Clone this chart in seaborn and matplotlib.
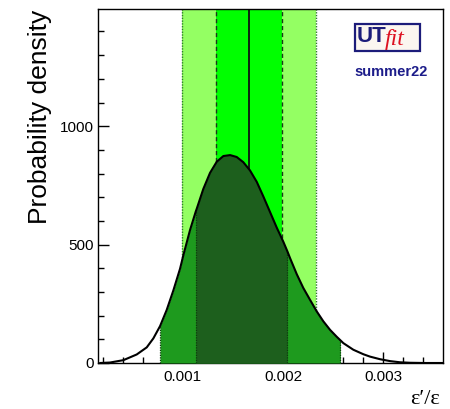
import numpy as np
import pandas as pd
import matplotlib
matplotlib.use("Agg")
import matplotlib.pyplot as plt
import seaborn as sns
from matplotlib.ticker import MultipleLocator
from matplotlib.patches import Rectangle

# posterior p.d.f. of eps'/eps
eps_ratio = [0.000175, 0.000275, 0.000408, 0.000541, 0.000641, 0.000707, 0.000774,
             0.000840, 0.000906, 0.000973, 0.001006, 0.001073, 0.001130, 0.001140,
             0.001205, 0.001272, 0.001339, 0.001405, 0.001472, 0.001538, 0.001604,
             0.001671, 0.001738, 0.001804, 0.001870, 0.001937, 0.002003, 0.002043,
             0.002070, 0.002137, 0.002202, 0.002269, 0.002336, 0.002402, 0.002469,
             0.002535, 0.002572, 0.002601, 0.002701, 0.002801, 0.002867, 0.002967,
             0.003067, 0.003167, 0.003267, 0.003416, 0.003595]
density = [0, 2, 12, 36, 66, 104, 156,
           224, 306, 398, 455, 562, 640, 652,
           735, 803, 850, 874, 878, 870, 848,
           813, 765, 703, 638, 572, 512, 472,
           443, 375, 317, 267, 218, 176, 140,
           111, 96, 84, 56, 37, 27, 16,
           8, 3, 1, 0, 0]

# 68% / 95% intervals of the posterior
post_68 = (0.001130, 0.002043)
post_95 = (0.000774, 0.002572)

# experimental average: central value, 1 and 2 sigma bands
meas_central = 0.00166
meas_1sig = (0.00133, 0.00199)
meas_2sig = (0.000996, 0.00233)

df = pd.DataFrame({"x": eps_ratio, "pdf": density})

sns.set_style("ticks")
plt.rcParams["font.family"] = ["Liberation Sans", "DejaVu Sans"]
plt.rcParams["text.color"] = "black"

fig = plt.figure(figsize=(4.5, 4.09), dpi=100)
ax = fig.add_axes([98 / 450, 1 - 363 / 409, 345 / 450, 354 / 409])

# measurement bands
ax.axvspan(*meas_2sig, color="#94ff63", lw=0, zorder=1)
ax.axvspan(*meas_1sig, color="#00ff00", lw=0, zorder=1)
for v in meas_2sig:
    ax.axvline(v, color="#2f7a2f", ls=(0, (1, 1)), lw=1, zorder=2)
for v in meas_1sig:
    ax.axvline(v, color="#1a3a1a", ls=(0, (3, 2)), lw=1, zorder=2)
ax.axvline(meas_central, color="#111111", lw=1.3, zorder=2)

# posterior fill
x = df["x"].to_numpy()
y = df["pdf"].to_numpy()
m95 = (x >= post_95[0]) & (x <= post_95[1])
m68 = (x >= post_68[0]) & (x <= post_68[1])
ax.fill_between(x, 0, y, where=m95, color="#1e9a1e", lw=0, zorder=3)
ax.fill_between(x, 0, y, where=m68, color="#1d5f1d", lw=0, zorder=4)
for v in post_95 + post_68:
    ax.plot([v, v], [0, np.interp(v, x, y)], color="#0d3d0d",
            ls=(0, (1, 1)), lw=0.9, zorder=5)

sns.lineplot(data=df, x="x", y="pdf", color="black", lw=1.5, ax=ax, zorder=6)

ax.set_xlim(0.000155, 0.003595)
ax.set_ylim(0, 1495)
ax.set_xlabel("")
ax.set_ylabel("")
ax.xaxis.set_minor_locator(MultipleLocator(0.0002))
ax.yaxis.set_major_locator(MultipleLocator(500))
ax.yaxis.set_minor_locator(MultipleLocator(100))
ax.set_xticks([0.001, 0.002, 0.003])
ax.set_xticklabels(["0.001", "0.002", "0.003"])
ax.tick_params(which="major", direction="in", length=8, width=1, labelsize=11,
               pad=3, colors="black")
ax.tick_params(which="minor", direction="in", length=4, width=1, colors="black")
ax.tick_params(axis="x", pad=5)
for s in ax.spines.values():
    s.set_visible(True)
    s.set_linewidth(1)
    s.set_color("black")

fig.text(40 / 450, 1 - 117 / 409, "Probability density", rotation=90,
         ha="center", va="center", fontsize=19)
fig.text(440 / 450, 1 - 404 / 409, "ε\u2032/ε", ha="right", va="baseline",
         fontsize=16, family=["Liberation Serif", "DejaVu Serif"])

# UTfit logo
fig.patches.append(Rectangle((355 / 450, 1 - 51 / 409), 65 / 450, 27 / 409,
                             transform=fig.transFigure, facecolor="#fbf6f0",
                             edgecolor="#1c1c7a", lw=1.6, zorder=10))
fig.text(357 / 450, 1 - 37 / 409, "UT", ha="left", va="center", fontsize=16,
         fontweight="bold", color="#1c1c7a", zorder=11)
fig.text(385 / 450, 1 - 40 / 409, "fit", ha="left", va="center", fontsize=17,
         style="italic", color="#dd1020", zorder=11,
         family=["Liberation Serif", "DejaVu Serif"])
fig.text(391 / 450, 1 - 72 / 409, "summer22", ha="center", va="center",
         fontsize=10.5, fontweight="bold", color="#1c1c8a")

fig.savefig("out.png", dpi=100)
